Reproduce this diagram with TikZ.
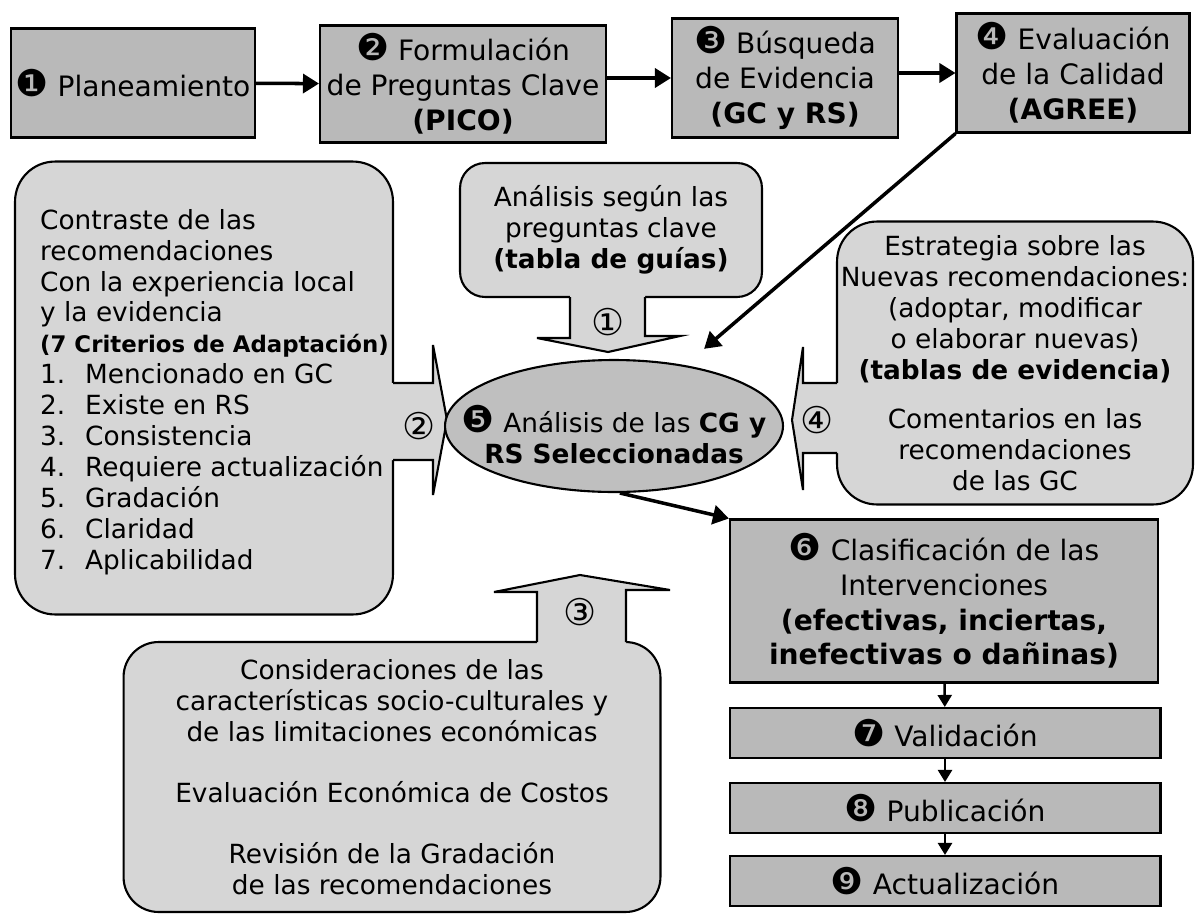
\documentclass[tikz,border=0pt]{standalone}
\usepackage{fontspec}
\setmainfont{DejaVu Sans}
\usetikzlibrary{arrows.meta,positioning,shapes.geometric}
\newcommand\stepnum[1]{{\fontsize{21}{19}\selectfont#1}}

\begin{document}
\begin{tikzpicture}[x=0.02cm,y=-0.02cm,every node/.style={font=\fontsize{15}{17.6}\selectfont},
 stepbox/.style={draw,line width=1.2pt,fill=gray!55,align=center,inner sep=2pt,font=\fontsize{16}{19.8}\selectfont},
 rbox/.style={draw,line width=1.2pt,fill=gray!32,rounded corners=0.8cm},
 callout/.style={fill=gray!32},
 cline/.style={line width=1.2pt,line join=miter},
 num/.style={font=\fontsize{21}{21}\selectfont,inner sep=0pt},
 arr/.style={-{Triangle[length=3.2mm,width=3.8mm]},line width=2pt},
 sarr/.style={-{Triangle[length=2.4mm,width=2.8mm]},line width=1.4pt}]
\useasboundingbox (0,0) rectangle (1195,916);
\node[stepbox,minimum width=4.88cm,minimum height=2.18cm] (b1) at (133,83) {\stepnum{❶} Planeamiento};
\node[stepbox,minimum width=5.72cm,minimum height=2.34cm] (b2) at (463,84) {\stepnum{❷} Formulación\\de Preguntas Clave\\\textbf{(PICO)}};
\node[stepbox,minimum width=4.52cm,minimum height=2.38cm] (b3) at (785,78) {\stepnum{❸} Búsqueda\\de Evidencia\\\textbf{(GC y RS)}};
\node[stepbox,minimum width=4.66cm,minimum height=2.38cm] (b4) at (1073,73) {\stepnum{❹} Evaluación\\de la Calidad\\\textbf{(AGREE)}};
\draw[arr] (b1) -- (b2);
\draw[arr] (b2.east |- b3.west) -- (b3.west);
\draw[arr] (b3.east |- b4.west) -- (b4.west);

\node[rbox,minimum width=7.56cm,minimum height=9.06cm] (lb) at (204,388) {};
\node[anchor=west,align=left] (lbt) at (34,392) {Contraste de las\\recomendaciones\\Con la experiencia local\\y la evidencia\\{\fontsize{13}{15}\selectfont\bfseries (7 Criterios de Adaptación)}\\
 \makebox[0.9cm][l]{1.}Mencionado en GC\\\makebox[0.9cm][l]{2.}Existe en RS\\\makebox[0.9cm][l]{3.}Consistencia\\\makebox[0.9cm][l]{4.}Requiere actualización\\
 \makebox[0.9cm][l]{5.}Gradación\\\makebox[0.9cm][l]{6.}Claridad\\\makebox[0.9cm][l]{7.}Aplicabilidad};
\node[rbox,rounded corners=0.5cm,minimum width=6.04cm,minimum height=2.68cm,align=center] (qb) at (611,230) {Análisis según las\\preguntas clave\\\textbf{(tabla de guías)}};
\node[rbox,inner xsep=0.05cm,minimum width=7.12cm,minimum height=5.66cm,align=center] (rb) at (1015,363) {Estrategia sobre las\\Nuevas recomendaciones:\\(adoptar, modificar\\o elaborar nuevas)\\\textbf{(tablas de evidencia)}\\[0.36cm]Comentarios en las\\recomendaciones\\de las GC};
\node[rbox,rounded corners=0.7cm,minimum width=10.74cm,minimum height=5.4cm,align=center] (cb) at (392,777) {Consideraciones de las\\características socio-culturales y\\de las limitaciones económicas\\[0.6cm]Evaluación Económica de Costos\\[0.6cm]Revisión de la Gradación\\de las recomendaciones};

\fill[callout] (570,290) -- (570,338) -- (537,338) -- (608,352) -- (680,336) -- (645,336) -- (645,290) -- cycle;
\draw[cline] (570,297) -- (570,338) -- (537,338) -- (608,352) -- (680,336) -- (645,336) -- (645,297);
\fill[callout] (386,383) -- (433,383) -- (433,345) -- (447,420) -- (433,495) -- (433,460) -- (386,460) -- cycle;
\draw[cline] (393,383) -- (433,383) -- (433,345) -- (447,420) -- (433,495) -- (433,460) -- (393,460);
\fill[callout] (844,383) -- (803,383) -- (803,347) -- (792,420) -- (803,490) -- (803,453) -- (844,453) -- cycle;
\draw[cline] (837,383) -- (803,383) -- (803,347) -- (792,420) -- (803,490) -- (803,453) -- (837,453);
\fill[callout] (537,649) -- (537,592) -- (494,592) -- (580,575) -- (670,590) -- (626,590) -- (626,649) -- cycle;
\draw[cline] (537,642) -- (537,592) -- (494,592) -- (580,575) -- (670,590) -- (626,590) -- (626,642);
\node[num] (n1) at (608,322) {①};
\node[num] (n2) at (419,426) {②};
\node[num] (n3) at (580,612) {③};
\node[num] (n4) at (817,420) {④};

\node[ellipse,draw,line width=1.2pt,fill=gray!50,minimum width=6.76cm,minimum height=2.64cm] (an) at (614,426) {};
\node[align=center] (ant) at (614,435) {\stepnum{❺} Análisis de las \textbf{CG y}\\\textbf{RS Seleccionadas}};
\draw[arr,shorten >=0.5cm] (b4.south west) -- (an);

\node[stepbox,minimum width=8.56cm,minimum height=3.26cm] (b6) at (944,601) {\stepnum{❻} Clasificación de las\\Intervenciones\\\textbf{(efectivas, inciertas,}\\\textbf{inefectivas o dañinas)}};
\draw[arr] (an.-85) -- (b6.north west);
\foreach \k/\lab/\y in {7/{\stepnum{❼} Validación}/733,8/{\stepnum{❽} Publicación}/808,9/{\stepnum{❾} Actualización}/881}
 \node[stepbox,minimum width=8.62cm,minimum height=1cm] (b\k) at (945,\y) {\lab};
\foreach \a/\b in {6/7,7/8,8/9}{\draw[sarr] (b\a) -- (b\b);}
\end{tikzpicture}
\end{document}
